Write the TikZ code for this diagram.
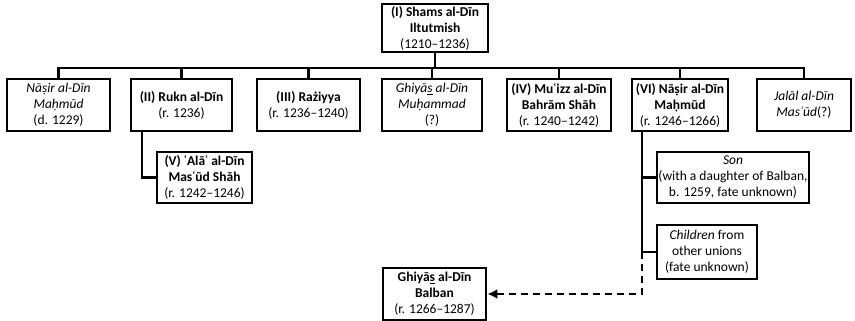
\documentclass[tikz,border=0pt]{standalone}
\usepackage{fontspec}
\setmainfont{Carlito}
\usetikzlibrary{arrows.meta}
\newcommand\ubars[1]{{\setbox0\hbox{#1}\rlap{\hbox to\wd0{\hss\rule[-0.16em]{0.42em}{0.07em}\hss}}\box0}}
\tikzset{
  box/.style={draw, line width=2.8pt, align=center, inner sep=0.5pt,
    font=\fontsize{13.5}{16}\selectfont},
  conn/.style={line width=2.8pt},
}
\begin{document}
\begin{tikzpicture}[x=1pt,y=-1pt]
\useasboundingbox (0,0) rectangle (855,321);
\node[box, minimum width=106, minimum height=48] (top) at (435,28) {\textbf{(I) Shams al-Dīn}\\\textbf{Iltutmish}\\(1210–1236)};
\node[box, minimum width=103, minimum height=52] (b1) at (58.5,105) {\textit{Nāṣir al-Dīn}\\\textit{Maḥmūd}\\(d. 1229)};
\node[box, minimum width=101, minimum height=52] (b2) at (181.5,105) {\textbf{(II) Rukn al-Dīn}\\(r. 1236)};
\node[box, minimum width=103, minimum height=52] (b3) at (308.5,105) {\textbf{(III) Rażiyya}\\(r. 1236–1240)};
\node[box, minimum width=100, minimum height=52] (b4) at (432,105) {\textit{Ghiyā\ubars{s} al-Dīn}\\\textit{Muḥammad}\\(?)};
\node[box, minimum width=104, minimum height=52] (b5) at (559,105) {\textbf{(IV) Muʿizz al-Dīn}\\\textbf{Bahrām Shāh}\\(r. 1240–1242)};
\node[box, minimum width=96, minimum height=52] (b6) at (680,105) {\textbf{(VI) Nāṣir al-Dīn}\\\textbf{Maḥmūd}\\(r. 1246–1266)};
\node[box, minimum width=94, minimum height=52] (b7) at (804,105) {\textit{Jalāl al-Dīn}\\\textit{Masʿūd}(?)};
\node[box, minimum width=95, minimum height=51] (v) at (204.5,177.5) {\textbf{(V) ʿAlāʾ al-Dīn}\\\textbf{Masʿūd Shāh}\\(r. 1242–1246)};
\node[box, minimum width=152, minimum height=51] (son) at (733,177.5) {\textit{Son}\\(with a daughter of Balban,\\b. 1259, fate unknown)};
\node[box, minimum width=100, minimum height=54] (ch) at (707,252) {\textit{Children} from\\other unions\\(fate unknown)};
\node[box, minimum width=103, minimum height=52] (bal) at (434.5,294) {\textbf{Ghiyā\ubars{s} al-Dīn}\\\textbf{Balban}\\(r. 1266–1287)};
\coordinate (bus) at (0,68);
\draw[conn] (top.south) -- (top.south |- bus);
\draw[conn] (b1.north) |- (b7.north |- bus) -- (b7.north);
\foreach \n in {b2,b3,b4,b5,b6} \draw[conn] (\n.north) -- (\n.north |- bus);
\draw[conn] ([xshift=-39.5]b2.south) |- (v.west);
\coordinate (t) at ([xshift=-38]b6.south);
\draw[conn] (t) |- (son.west);
\draw[conn] (t) |- (ch.west);
\draw[conn, dash pattern=on 7pt off 5pt, -{Latex[length=10pt,width=10pt]}] (t |- ch.west) |- (bal.east);
\end{tikzpicture}
\end{document}
